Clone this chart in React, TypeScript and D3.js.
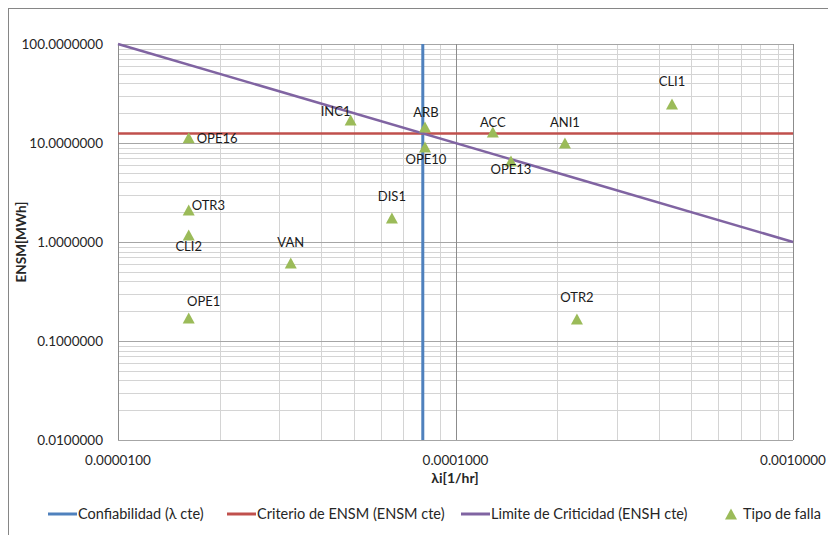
import React from 'react';
import * as d3 from 'd3';

// chart values
const lambdaDomain = [1e-5, 1e-3];
const ensmDomain = [0.01, 100];
const xTickValues = [1e-5, 1e-4, 1e-3];
const yTickValues = [0.01, 0.1, 1, 10, 100];

// constant-lambda, constant-ENSM and criticality lines
const confiabilidad = [
  { x: 8e-5, y: 0.01 },
  { x: 8e-5, y: 100 },
];
const criterioEnsm = [
  { x: 1e-5, y: 12.5 },
  { x: 1e-3, y: 12.5 },
];
const limiteCriticidad = [
  { x: 1e-5, y: 100 },
  { x: 1e-3, y: 1 },
];

// fault types
const faultNames = ['OPE16', 'OTR3', 'CLI2', 'OPE1', 'VAN', 'DIS1', 'INC1', 'ARB', 'OPE10', 'ACC', 'OPE13', 'ANI1', 'CLI1', 'OTR2'];
const faultLambda = [1.62e-5, 1.62e-5, 1.62e-5, 1.62e-5, 3.25e-5, 6.48e-5, 4.89e-5, 8.12e-5, 8.12e-5, 1.29e-4, 1.46e-4, 2.11e-4, 4.38e-4, 2.29e-4];
const faultEnsm = [11.3, 2.1, 1.18, 0.171, 0.614, 1.75, 17.1, 14.5, 9.1, 12.9, 6.58, 10.0, 24.8, 0.167];

// label placement (offset of text centre from marker), layout only
const labelOffset: Record<string, [number, number, string]> = {
  OPE16: [8, 1, 'start'],
  OTR3: [3, -5, 'start'],
  CLI2: [0, 12, 'middle'],
  OPE1: [15, -16, 'middle'],
  VAN: [0, -21, 'middle'],
  DIS1: [0, -21, 'middle'],
  INC1: [-15, -8, 'middle'],
  ARB: [1, -15, 'middle'],
  OPE10: [1, 12, 'middle'],
  ACC: [0, -10, 'middle'],
  OPE13: [0, 8, 'middle'],
  ANI1: [0, -21, 'middle'],
  CLI1: [0, -22, 'middle'],
  OTR2: [0, -22, 'middle'],
};

const legendItems = [
  { label: 'Confiabilidad (λ cte)', color: '#4F81BD', type: 'line' },
  { label: 'Criterio de ENSM (ENSM cte)', color: '#C0504D', type: 'line' },
  { label: 'Limite de Criticidad (ENSH cte)', color: '#8064A2', type: 'line' },
  { label: 'Tipo de falla', color: '#9BBB59', type: 'marker' },
];
const legendX = [48, 227, 461, 725];

const font = 'Lato, "Open Sans", sans-serif';

function triangle(cx: number, cy: number) {
  return `M${cx},${cy - 5.5}L${cx + 6},${cy + 5.5}L${cx - 6},${cy + 5.5}Z`;
}

export default function App() {
  const left = 118, right = 793, top = 44, bottom = 440;

  const x = d3.scaleLog().domain(lambdaDomain).range([left, right]);
  const y = d3.scaleLog().domain(ensmDomain).range([bottom, top]);

  const line = d3
    .line<{ x: number; y: number }>()
    .x(d => x(d.x))
    .y(d => y(d.y));

  const isMajor = (v: number) => Math.abs(Math.log10(v) - Math.round(Math.log10(v))) < 1e-9;

  const xGrid = x.ticks();
  const yGrid = y.ticks();

  return (
    <svg width={828} height={535} style={{ position: 'absolute', left: 0, top: 0, background: '#fff' }}>
      <rect x={8.5} y={8.5} width={840} height={560} fill="#fff" stroke="#868686" />

      {/* grid */}
      {yGrid.filter(v => !isMajor(v)).map((v, i) => (
        <line key={'ym' + i} x1={left} x2={right} y1={Math.round(y(v)) + 0.5} y2={Math.round(y(v)) + 0.5} stroke="#d4d4d4" />
      ))}
      {xGrid.filter(v => !isMajor(v)).map((v, i) => (
        <line key={'xm' + i} y1={top} y2={bottom} x1={Math.round(x(v)) + 0.5} x2={Math.round(x(v)) + 0.5} stroke="#d4d4d4" />
      ))}
      {yTickValues.map((v, i) => (
        <line key={'yM' + i} x1={left} x2={right} y1={Math.round(y(v)) + 0.5} y2={Math.round(y(v)) + 0.5} stroke="#a6a6a6" />
      ))}
      {xTickValues.map((v, i) => (
        <line key={'xM' + i} y1={top} y2={bottom} x1={Math.round(x(v)) + 0.5} x2={Math.round(x(v)) + 0.5} stroke="#8c8c8c" />
      ))}

      {/* tick labels */}
      {yTickValues.map((v, i) => (
        <text key={'yt' + i} x={103} y={y(v)} dy="0.35em" textAnchor="end" fontFamily={font} fontSize={13.5} fill="#262626">
          {v.toFixed(7)}
        </text>
      ))}
      {xTickValues.map((v, i) => (
        <text key={'xt' + i} x={x(v)} y={460} dy="0.35em" textAnchor="middle" fontFamily={font} fontSize={13.5} fill="#262626">
          {v.toFixed(7)}
        </text>
      ))}

      {/* axis titles */}
      <text x={455} y={478} dy="0.35em" textAnchor="middle" fontFamily={font} fontSize={14} fontWeight="bold" fill="#262626">
        λi[1/hr]
      </text>
      <text transform="translate(21,242) rotate(-90)" dy="0.35em" textAnchor="middle" fontFamily={font} fontSize={13.5} fontWeight="bold" fill="#262626">
        ENSM[MWh]
      </text>

      {/* series lines */}
      <path d={line(confiabilidad) ?? ''} stroke="#4F81BD" strokeWidth={3} fill="none" />
      <path d={line(criterioEnsm) ?? ''} stroke="#C0504D" strokeWidth={2.5} fill="none" />
      <path d={line(limiteCriticidad) ?? ''} stroke="#8064A2" strokeWidth={2.5} fill="none" />

      {/* fault markers */}
      {faultNames.map((name, i) => {
        const cx = x(faultLambda[i]);
        const cy = y(faultEnsm[i]);
        const [dx, dy, anchor] = labelOffset[name];
        return (
          <g key={name}>
            <path d={triangle(cx, cy)} fill="#9BBB59" />
            <text x={cx + dx} y={cy + dy} dy="0.35em" textAnchor={anchor as any} fontFamily={font} fontSize={13} fill="#1a1a1a">
              {name}
            </text>
          </g>
        );
      })}

      {/* legend */}
      {legendItems.map((item, i) => (
        <g key={item.label} transform={`translate(${legendX[i]},514)`}>
          {item.type === 'line' ? (
            <line x1={0} x2={29} y1={0} y2={0} stroke={item.color} strokeWidth={3} />
          ) : (
            <path d={triangle(6, 0)} fill={item.color} />
          )}
          <text x={item.type === 'line' ? 30 : 18} y={0} dy="0.35em" fontFamily={font} fontSize={14.5} fill="#262626">
            {item.label}
          </text>
        </g>
      ))}
    </svg>
  );
}
